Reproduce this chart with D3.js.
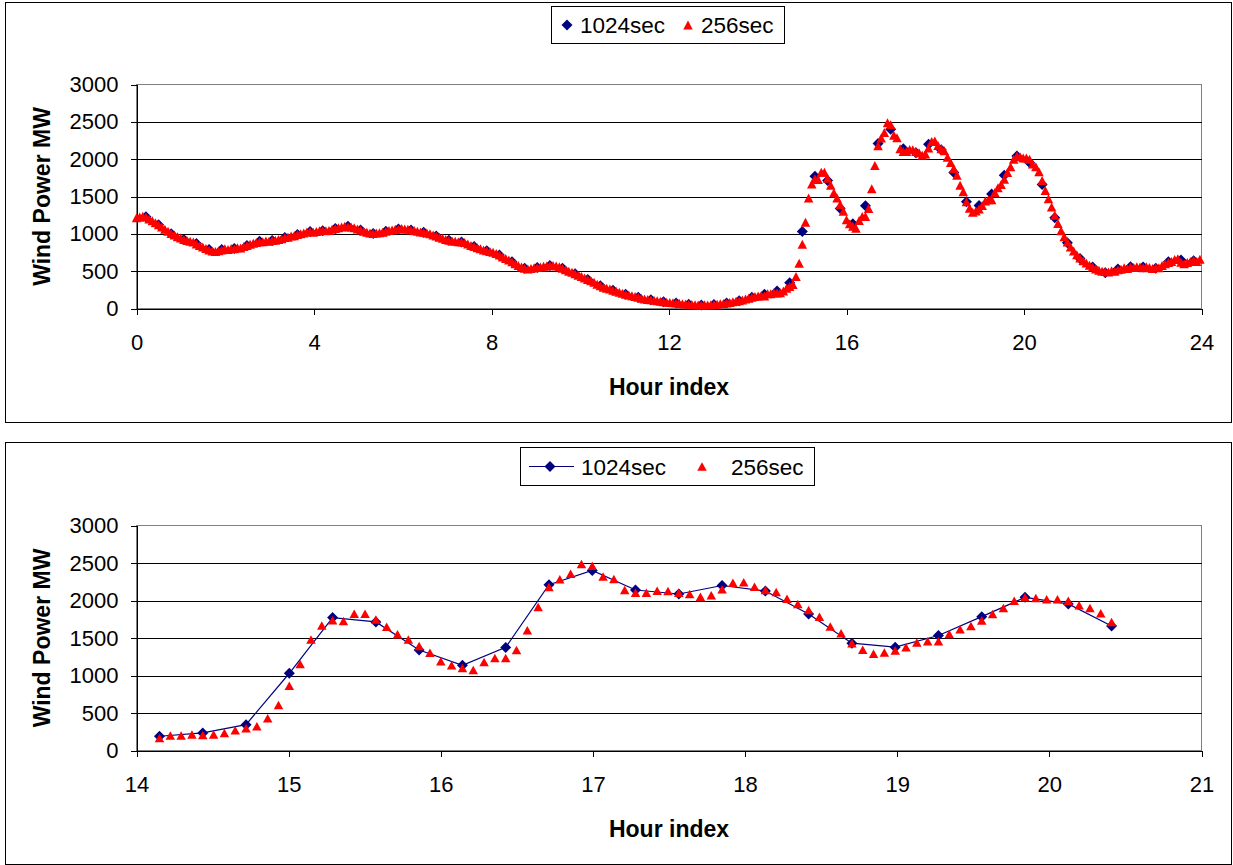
<!DOCTYPE html>
<html>
<head>
<meta charset="utf-8">
<script src="https://cdn.jsdelivr.net/npm/d3@7"></script>
<style>
  body { margin: 0; background: #fff; }
  svg { display: block; font-family: Arial, "Liberation Sans", sans-serif; }
</style>
</head>
<body>
<div class="myChart"></div>
<script>
// wind power, 256 s averages over the day (sample k at k*256 s)
const wind256 = [
  1215,1225,1235,1225,1200,1175,1150,1120,1090,1060,
  1035,1005,985,960,945,925,910,900,890,865,
  845,825,805,785,770,765,775,785,800,790,
  805,800,815,810,830,845,860,875,885,895,
  895,905,900,910,915,925,935,950,955,970,
  975,990,1000,1010,1025,1030,1020,1030,1040,1045,
  1040,1045,1060,1070,1080,1090,1100,1095,1090,1080,
  1065,1050,1035,1020,1010,1005,1010,1015,1020,1035,
  1045,1050,1060,1065,1070,1065,1060,1050,1045,1035,
  1025,1020,1010,1000,985,970,955,940,925,915,
  905,900,895,890,885,865,845,830,815,800,
  785,775,765,755,735,715,690,670,650,625,
  600,575,555,540,530,535,545,550,555,565,
  570,575,575,570,560,540,520,500,485,465,
  445,430,410,390,370,350,325,305,285,270,
  260,245,230,218,205,192,182,170,160,150,
  138,128,122,117,110,103,97,90,84,80,
  78,75,70,65,60,56,52,50,48,48,
  49,48,50,52,56,62,68,75,82,90,
  96,105,115,127,138,150,160,168,175,
  168,199,199,212,208,212,234,270,296,323,
  429,606,862,1154,1481,1666,1737,1728,1825,1825,
  1746,1649,1551,1481,1392,1304,1189,1136,1101,1074,
  1180,1233,1233,1339,1604,1914,2179,2285,2356,2488,
  2462,2320,
  2286,2140,2104,2104,2131,2126,2104,2087,2051,2069,
  2149,2237,2242,2184,2140,2113,2024,1954,1874,1785,
  1652,1564,1431,1342,1289,1307,1333,1378,1440,1457,
  1457,1555,1617,1661,1732,1821,1900,1998,2042,2033,
  2016,2016,1998,1936,1900,1830,1714,
  1580,1470,1360,1250,1140,1040,960,890,825,770,
  720,675,640,610,580,555,530,512,500,495,
  490,505,500,520,525,545,535,555,550,560,
  555,545,560,550,535,550,545,575,600,615,
  630,655,665,620,600,615,630,645,630,660
];

// wind power, 1024 s averages (sample j ends at (4j+3)*256 s)
const wind1024 = [
  1230,1120,1000,925,870,790,790,805,845,900,
  910,950,990,1030,1040,1070,1100,1050,1005,1035,
  1065,1050,1020,970,915,890,830,775,715,625,
  540,550,575,540,465,390,305,245,192,150,
  117,90,75,56,48,52,75,105,150,
  190,234,345,1030,1772,1715,1340,1136,1375,2210,
  2400,2140,2087,2200,2126,1820,1431,1378,1533,1785,
  2042,1954,1661,
  1215,880,670,555,480,530,560,555,540,625,650,640
];

const yTicks = [0, 500, 1000, 1500, 2000, 2500, 3000];
const xTicksDay = [0, 4, 8, 12, 16, 20, 24];
const xTicksZoom = [14, 15, 16, 17, 18, 19, 20, 21];
const seriesNames = ["1024sec", "256sec"];

const pts256 = wind256.map((v, k) => ({h: k * 256 / 3600, v: v}));
const pts1024 = wind1024.map((v, j) => ({h: (4 * j + 3) * 256 / 3600, v: v}));

const W = 1233, H = 865;
const FONT = "Arial, 'Liberation Sans', sans-serif";
const svg = d3.select(".myChart").append("svg").attr("width", W).attr("height", H);
svg.append("rect").attr("width", W).attr("height", H).attr("fill", "#fff");

function diamond(r) {
    return "M0," + (-r) + "L" + r + ",0L0," + r + "L" + (-r) + ",0Z";
}
function triangle(w, h) {
    return "M0," + (-h / 2) + "L" + (w / 2) + "," + (h / 2) + "L" + (-w / 2) + "," + (h / 2) + "Z";
}

function drawPanel(cfg) {
    const g = svg.append("g");

    // outer frame
    g.append("rect")
        .attr("x", cfg.frame[0]).attr("y", cfg.frame[1])
        .attr("width", cfg.frame[2] - cfg.frame[0]).attr("height", cfg.frame[3] - cfg.frame[1])
        .attr("fill", "none").attr("stroke", "#000").attr("stroke-width", 1);

    const x = d3.scaleLinear().domain(cfg.xDomain).range([cfg.left, cfg.right]);
    const y = d3.scaleLinear().domain([0, 3000]).range([cfg.bottom, cfg.top]);

    // plot area border (gray)
    g.append("rect")
        .attr("x", cfg.left).attr("y", cfg.top)
        .attr("width", cfg.right - cfg.left).attr("height", cfg.bottom - cfg.top)
        .attr("fill", "none").attr("stroke", "#808080").attr("stroke-width", 1)
        .attr("shape-rendering", "crispEdges");

    // gridlines
    g.append("g")
        .attr("transform", "translate(" + cfg.left + ",0)")
        .call(d3.axisLeft(y).tickValues(yTicks.slice(1, -1)).tickSize(-(cfg.right - cfg.left)).tickFormat(""))
        .call(s => s.select(".domain").remove())
        .call(s => s.selectAll("line").attr("stroke", "#000").attr("shape-rendering", "crispEdges"));

    // y axis
    const ya = g.append("g")
        .attr("transform", "translate(" + cfg.left + ",0)")
        .call(d3.axisLeft(y).tickValues(yTicks).tickFormat(d3.format("d"))
            .tickSizeOuter(0).tickSize(6).tickPadding(12));
    ya.select(".domain").attr("stroke", "#000").attr("shape-rendering", "crispEdges");
    ya.selectAll("line").attr("stroke", "#000").attr("shape-rendering", "crispEdges");
    ya.selectAll("text").attr("font-size", 22).attr("fill", "#000").attr("font-family", FONT);

    // x axis
    const xa = g.append("g")
        .attr("transform", "translate(0," + cfg.bottom + ")")
        .call(d3.axisBottom(x).tickValues(cfg.xTicks).tickFormat(d3.format("d"))
            .tickSizeOuter(0).tickSize(6).tickPadding(20));
    xa.select(".domain").attr("stroke", "#000").attr("shape-rendering", "crispEdges");
    xa.selectAll("line").attr("stroke", "#000").attr("shape-rendering", "crispEdges");
    xa.selectAll("text").attr("font-size", 22).attr("fill", "#000").attr("font-family", FONT);

    // titles
    g.append("text")
        .attr("x", (cfg.left + cfg.right) / 2).attr("y", cfg.xTitleY)
        .attr("text-anchor", "middle").attr("font-size", 23).attr("font-weight", "bold")
        .text("Hour index");
    g.append("text")
        .attr("transform", "translate(50," + (cfg.top + cfg.bottom) / 2 + ") rotate(-90)")
        .attr("text-anchor", "middle").attr("font-size", 23).attr("font-weight", "bold")
        .text("Wind Power MW");

    const d1024 = pts1024.filter(d => d.h >= cfg.dataRange[0] && d.h <= cfg.dataRange[1]);
    const d256 = pts256.filter(d => d.h >= cfg.dataRange[0] && d.h <= cfg.dataRange[1]);

    if (cfg.line) {
        g.append("path")
            .datum(d1024)
            .attr("fill", "none").attr("stroke", "#000080").attr("stroke-width", 1.2)
            .attr("d", d3.line().x(d => x(d.h)).y(d => y(d.v)));
    }

    g.append("g").selectAll("path")
        .data(d1024)
        .enter().append("path")
        .attr("transform", d => "translate(" + x(d.h) + "," + y(d.v) + ")")
        .attr("d", diamond(cfg.dia))
        .attr("fill", "#000080");

    g.append("g").selectAll("path")
        .data(d256)
        .enter().append("path")
        .attr("transform", d => "translate(" + x(d.h) + "," + y(d.v) + ")")
        .attr("d", triangle(cfg.triW, cfg.triH))
        .attr("fill", "#ff0000");

    // legend
    const L = cfg.legend;
    const lg = g.append("g");
    lg.append("rect")
        .attr("x", L.x0).attr("y", L.y0).attr("width", L.x1 - L.x0).attr("height", L.y1 - L.y0)
        .attr("fill", "#fff").attr("stroke", "#000").attr("stroke-width", 1)
        .attr("shape-rendering", "crispEdges");
    const cy = (L.y0 + L.y1) / 2;
    if (cfg.line) {
        lg.append("line").attr("x1", L.lineX[0]).attr("x2", L.lineX[1])
            .attr("y1", cy).attr("y2", cy).attr("stroke", "#000080").attr("stroke-width", 1.2);
    }
    lg.append("path").attr("transform", "translate(" + L.dia + "," + cy + ")")
        .attr("d", diamond(cfg.dia)).attr("fill", "#000080");
    lg.append("path").attr("transform", "translate(" + L.tri + "," + cy + ")")
        .attr("d", triangle(cfg.triW, cfg.triH)).attr("fill", "#ff0000");
    lg.append("text").attr("x", L.text[0]).attr("y", cy + 8).attr("font-size", 22.5).text(seriesNames[0]);
    lg.append("text").attr("x", L.text[1]).attr("y", cy + 8).attr("font-size", 22.5).text(seriesNames[1]);
}

drawPanel({
    frame: [5.5, 2.5, 1231.5, 422.5],
    xDomain: [0, 24], xTicks: xTicksDay, dataRange: [0, 24],
    left: 136.5, right: 1201.5, top: 84.5, bottom: 308.5,
    xTitleY: 395,
    line: false, dia: 5.5, triW: 9.5, triH: 9,
    legend: {x0: 551.5, x1: 784.5, y0: 6.5, y1: 43.5, dia: 567, tri: 688, text: [580, 701]}
});

drawPanel({
    frame: [5.5, 442.5, 1231.5, 864.5],
    xDomain: [14, 21], xTicks: xTicksZoom, dataRange: [14.1, 20.45],
    left: 136.5, right: 1201.5, top: 525.5, bottom: 750.5,
    xTitleY: 837,
    line: true, dia: 5.5, triW: 9.5, triH: 8.5,
    legend: {x0: 520.5, x1: 814.5, y0: 447.5, y1: 485.5, lineX: [529, 574], dia: 550, tri: 702, text: [581, 731]}
});
</script>
</body>
</html>
